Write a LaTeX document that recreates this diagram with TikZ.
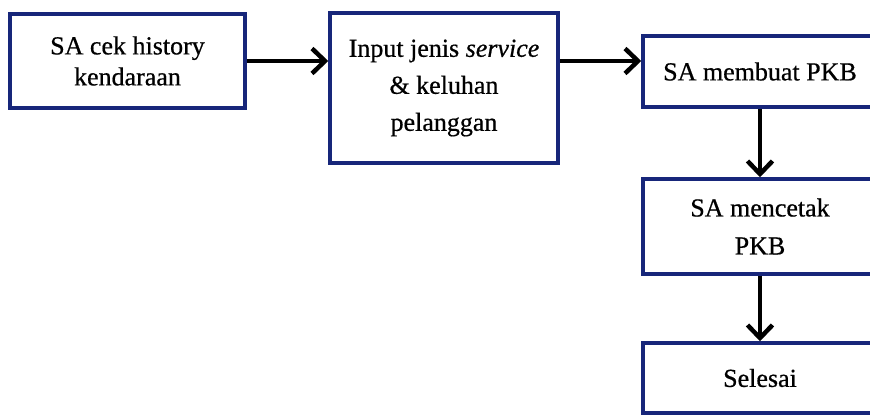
\documentclass[tikz,border=0pt]{standalone}
\usepackage{fontspec}
\setmainfont{Liberation Serif}
\usetikzlibrary{arrows.meta}
\definecolor{boxblue}{HTML}{17267A}
\tikzset{
  flowbox/.style={draw=boxblue, line width=3.5pt, fill=white, align=center,
    inner sep=0pt, font=\fontsize{26}{31}\selectfont\addfontfeatures{FakeBold=0.6}},
  flowarrow/.style={line width=4.5pt, black,
    -{Straight Barb[length=13pt,width=25pt,line width=4.5pt]}}
}
\begin{document}
\begin{tikzpicture}[x=1pt,y=-1pt]
  \useasboundingbox (0,0) rectangle (870,415);
  \begin{scope}
    \clip (0,0) rectangle (870,415);
    \node[flowbox, minimum width=235pt, minimum height=94pt] (b1) at (127.5,61)
      {SA cek history\\kendaraan};
    \node[flowbox, minimum width=228pt, minimum height=150pt,
      font=\fontsize{26}{37}\selectfont\addfontfeatures{FakeBold=0.6}] (b2) at (444,88)
      {Input jenis \textit{service}\\\& keluhan\\pelanggan};
    \node[flowbox, minimum width=234pt, minimum height=71pt] (b3) at (760,71.5)
      {SA membuat PKB};
    \node[flowbox, minimum width=234pt, minimum height=95pt,
      font=\fontsize{26}{38}\selectfont\addfontfeatures{FakeBold=0.6}] (b4) at (760,226.5)
      {SA mencetak\\PKB};
    \node[flowbox, minimum width=234pt, minimum height=70pt] (b5) at (760,378)
      {Selesai};
    \draw[flowarrow] (b1.east) -- (b1.east -| b2.west);
    \draw[flowarrow] (b1.east -| b2.east) -- (b1.east -| b3.west);
    \draw[flowarrow] (b3.south) -- (b4.north);
    \draw[flowarrow] (b4.south) -- (b5.north);
  \end{scope}
\end{tikzpicture}
\end{document}
